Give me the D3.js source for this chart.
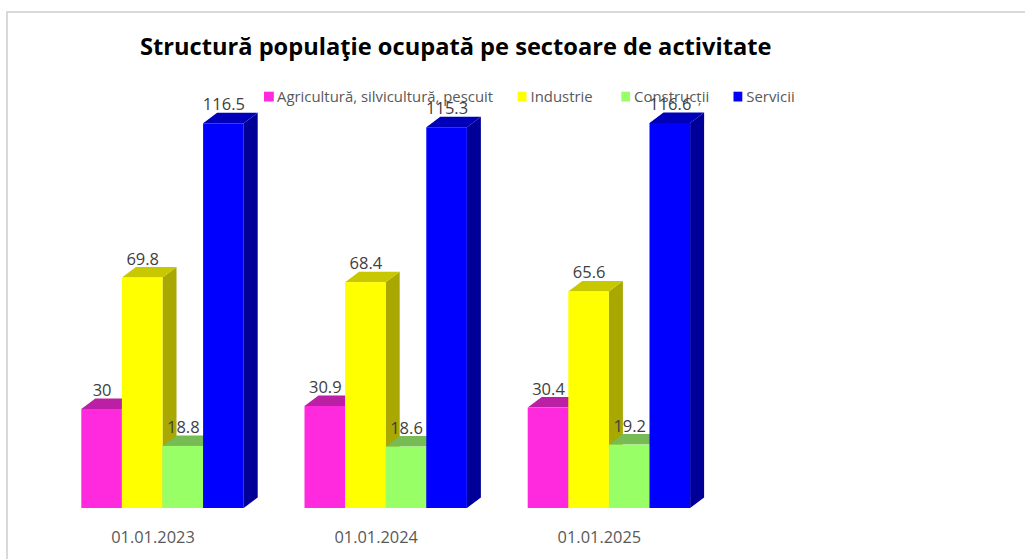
<!DOCTYPE html>
<html><head><meta charset="utf-8">
<script src="https://cdn.jsdelivr.net/npm/d3@7"></script>
<style>html,body{margin:0;padding:0;background:#fff;overflow:hidden}svg{display:block}</style>
</head><body><div id="c"></div>
<script>
const categories = ["01.01.2023","01.01.2024","01.01.2025"];
const seriesNames = ["Agricultură, silvicultură, pescuit","Industrie","Construcții","Servicii"];
const agricultura = [30,30.9,30.4];
const industrie = [69.8,68.4,65.6];
const constructii = [18.8,18.6,19.2];
const servicii = [116.5,115.3,116.6];
const seriesValues = [agricultura,industrie,constructii,servicii];
const frontColors = ["#ff29dd","#ffff00","#99ff66","#0000ff"];
const topColors = ["#bb1fa3","#c8c800","#77bb55","#0000bb"];
const sideColors = ["#99198a","#a8a800","#5f9944","#000099"];
const legendX = [264,517.7,621.3,733.5];
const titleText = "Structură populaţie ocupată pe sectoare de activitate";

const W=1025,H=559,FONT="'Open Sans',sans-serif";
const svg=d3.select("#c").append("svg").attr("width",W).attr("height",H);
svg.append("path").attr("d",`M7 ${H}V12H${W}`).attr("fill","none").attr("stroke","#d9d9d9").attr("stroke-width",2);

const x0=d3.scaleBand().domain(categories).range([81.3,690.1]).paddingInner(0.2724).paddingOuter(0);
const x1=d3.scaleBand().domain(d3.range(4)).range([0,x0.bandwidth()]);
const y=d3.scaleLinear().domain([0,116.5]).range([508,123.3]);
const dx=14,dy=10.5;

const axis=d3.axisBottom(x0).tickSize(0).tickPadding(0);
const ax=svg.append("g").attr("transform","translate(-9.5,508)").call(axis);
ax.select(".domain").remove();
ax.selectAll("text").attr("y",35).attr("dy",0).attr("font-family",FONT).attr("font-size",16.4).attr("fill","#595959");

const bars=[];
categories.forEach((c,i)=>seriesValues.forEach((vals,s)=>bars.push({c,s,v:vals[i]})));
const g=svg.selectAll("g.bar").data(bars).join("g").attr("class","bar");
g.each(function(d){
  const a=x0(d.c)+x1(d.s),w=x1.bandwidth(),t=y(d.v),b=y(0),n=d3.select(this);
  n.append("path").attr("fill",sideColors[d.s]).attr("d",`M${a+w} ${t}L${a+w+dx} ${t-dy}V${b-dy}L${a+w} ${b}Z`);
  n.append("path").attr("fill",topColors[d.s]).attr("d",`M${a} ${t}L${a+dx} ${t-dy}H${a+w+dx}L${a+w} ${t}Z`);
  n.append("rect").attr("fill",frontColors[d.s]).attr("x",a).attr("y",t).attr("width",w).attr("height",b-t);
});

const lg=svg.selectAll("g.lg").data(seriesNames).join("g").attr("class","lg");
lg.append("rect").attr("x",(d,i)=>legendX[i]).attr("y",91.7).attr("width",(d,i)=>i==0?9.8:8.8).attr("height",9.8).attr("fill",(d,i)=>frontColors[i]);
lg.append("text").attr("x",(d,i)=>legendX[i]+(i==0?13:12.8)).attr("y",101.5).text(d=>d)
  .attr("font-family",FONT).attr("font-size",14.9).attr("fill","#595959");

svg.selectAll("text.val").data(bars).join("text").attr("class","val")
  .attr("x",d=>x0(d.c)+x1(d.s)+x1.bandwidth()/2+0.5).attr("y",d=>y(d.v)-13)
  .attr("text-anchor","middle").attr("font-family",FONT).attr("font-size",16.5).attr("fill","#404040").text(d=>d.v);

svg.append("text").attr("x",140).attr("y",55).text(titleText).attr("font-family",FONT)
  .attr("font-weight",700).attr("font-size",23.65).attr("fill","#000");
</script></body></html>
